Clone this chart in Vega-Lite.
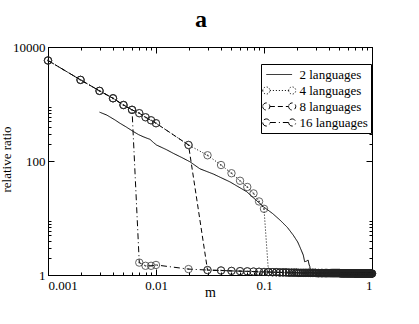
{
"$schema":"https://vega.github.io/schema/vega-lite/v6.json",
"width":324,"height":228,"autosize":"none",
"padding":{"left":48,"top":47,"right":47,"bottom":49},
"background":"white",
"title":{"text":"a","font":"Liberation Serif","fontSize":24,"fontWeight":"bold","anchor":"middle","frame":"group","dx":-9,"dy":10,"offset":0,"baseline":"alphabetic","color":"black"},
"config":{"view":{"stroke":"black","strokeWidth":1},"axis":{"domainColor":"black","tickColor":"black","labelColor":"black","titleColor":"black","labelFont":"Liberation Serif","titleFont":"Liberation Serif","labelFontSize":13,"titleFontSize":13,"titleFontWeight":"normal","grid":false}},
"data":{"values":[
{"s":"2","m":0.003,"r":720},{"s":"2","m":0.0035,"r":640},{"s":"2","m":0.00417,"r":525},{"s":"2","m":0.00464,"r":459},{"s":"2","m":0.0053,"r":395},{"s":"2","m":0.0062,"r":327},{"s":"2","m":0.0069,"r":290},{"s":"2","m":0.0076,"r":267},{"s":"2","m":0.0082,"r":252},{"s":"2","m":0.0088,"r":240},{"s":"2","m":0.0095,"r":210},{"s":"2","m":0.0101,"r":191},{"s":"2","m":0.0125,"r":158},{"s":"2","m":0.0145,"r":136},{"s":"2","m":0.0175,"r":114},{"s":"2","m":0.0206,"r":97},{"s":"2","m":0.0255,"r":73},{"s":"2","m":0.034,"r":59},{"s":"2","m":0.0484,"r":43},{"s":"2","m":0.069,"r":29},{"s":"2","m":0.0986,"r":15.8},{"s":"2","m":0.12,"r":12},{"s":"2","m":0.1407,"r":9.2},{"s":"2","m":0.165,"r":6.8},{"s":"2","m":0.1866,"r":5.0},{"s":"2","m":0.205,"r":3.8},{"s":"2","m":0.215,"r":3.1},{"s":"2","m":0.231,"r":2.24},{"s":"2","m":0.238,"r":1.71},{"s":"2","m":0.247,"r":1.75},{"s":"2","m":0.256,"r":1.83},{"s":"2","m":0.262,"r":1.5},{"s":"2","m":0.266,"r":1.4},{"s":"2","m":0.268,"r":1.12},{"s":"2","m":0.3,"r":1.08},{"s":"2","m":0.5,"r":1.07},{"s":"2","m":1.0,"r":1.05},
{"s":"4","m":0.001,"r":5800},{"s":"4","m":0.002,"r":2650},{"s":"4","m":0.003,"r":1700},{"s":"4","m":0.004,"r":1260},{"s":"4","m":0.005,"r":960},{"s":"4","m":0.006,"r":790},{"s":"4","m":0.007,"r":690},{"s":"4","m":0.008,"r":585},{"s":"4","m":0.009,"r":518},{"s":"4","m":0.01,"r":460},{"s":"4","m":0.02,"r":191},{"s":"4","m":0.03,"r":126},{"s":"4","m":0.04,"r":85},{"s":"4","m":0.05,"r":61},{"s":"4","m":0.06,"r":45},{"s":"4","m":0.07,"r":35},{"s":"4","m":0.08,"r":27},{"s":"4","m":0.09,"r":19.5},{"s":"4","m":0.1,"r":14.5},
{"s":"4","m":0.11,"r":1.13},{"s":"4","m":0.12,"r":1.12},{"s":"4","m":0.13,"r":1.12},{"s":"4","m":0.14,"r":1.11},{"s":"4","m":0.15,"r":1.11},{"s":"4","m":0.16,"r":1.11},{"s":"4","m":0.17,"r":1.1},{"s":"4","m":0.18,"r":1.1},{"s":"4","m":0.19,"r":1.1},{"s":"4","m":0.2,"r":1.1},
{"s":"4","m":0.21,"r":1.09},{"s":"4","m":0.22,"r":1.09},{"s":"4","m":0.23,"r":1.09},{"s":"4","m":0.24,"r":1.09},{"s":"4","m":0.25,"r":1.09},{"s":"4","m":0.26,"r":1.09},{"s":"4","m":0.27,"r":1.09},{"s":"4","m":0.28,"r":1.09},{"s":"4","m":0.29,"r":1.09},{"s":"4","m":0.3,"r":1.09},
{"s":"4","m":0.31,"r":1.08},{"s":"4","m":0.32,"r":1.08},{"s":"4","m":0.33,"r":1.08},{"s":"4","m":0.34,"r":1.08},{"s":"4","m":0.35,"r":1.08},{"s":"4","m":0.36,"r":1.08},{"s":"4","m":0.37,"r":1.08},{"s":"4","m":0.38,"r":1.08},{"s":"4","m":0.39,"r":1.08},{"s":"4","m":0.4,"r":1.08},{"s":"4","m":0.41,"r":1.08},{"s":"4","m":0.42,"r":1.08},{"s":"4","m":0.43,"r":1.08},{"s":"4","m":0.44,"r":1.08},{"s":"4","m":0.45,"r":1.08},{"s":"4","m":0.46,"r":1.08},{"s":"4","m":0.47,"r":1.08},{"s":"4","m":0.48,"r":1.08},{"s":"4","m":0.49,"r":1.08},{"s":"4","m":0.5,"r":1.08},
{"s":"4","m":0.51,"r":1.07},{"s":"4","m":0.52,"r":1.07},{"s":"4","m":0.53,"r":1.07},{"s":"4","m":0.54,"r":1.07},{"s":"4","m":0.55,"r":1.07},{"s":"4","m":0.56,"r":1.07},{"s":"4","m":0.57,"r":1.07},{"s":"4","m":0.58,"r":1.07},{"s":"4","m":0.59,"r":1.07},{"s":"4","m":0.6,"r":1.07},{"s":"4","m":0.61,"r":1.07},{"s":"4","m":0.62,"r":1.07},{"s":"4","m":0.63,"r":1.07},{"s":"4","m":0.64,"r":1.07},{"s":"4","m":0.65,"r":1.07},{"s":"4","m":0.66,"r":1.07},{"s":"4","m":0.67,"r":1.07},{"s":"4","m":0.68,"r":1.07},{"s":"4","m":0.69,"r":1.07},{"s":"4","m":0.7,"r":1.07},
{"s":"4","m":0.71,"r":1.06},{"s":"4","m":0.72,"r":1.06},{"s":"4","m":0.73,"r":1.06},{"s":"4","m":0.74,"r":1.06},{"s":"4","m":0.75,"r":1.06},{"s":"4","m":0.76,"r":1.06},{"s":"4","m":0.77,"r":1.06},{"s":"4","m":0.78,"r":1.06},{"s":"4","m":0.79,"r":1.06},{"s":"4","m":0.8,"r":1.06},{"s":"4","m":0.81,"r":1.06},{"s":"4","m":0.82,"r":1.06},{"s":"4","m":0.83,"r":1.06},{"s":"4","m":0.84,"r":1.06},{"s":"4","m":0.85,"r":1.06},{"s":"4","m":0.86,"r":1.06},{"s":"4","m":0.87,"r":1.06},{"s":"4","m":0.88,"r":1.06},{"s":"4","m":0.89,"r":1.06},{"s":"4","m":0.9,"r":1.06},{"s":"4","m":0.91,"r":1.06},{"s":"4","m":0.92,"r":1.06},{"s":"4","m":0.93,"r":1.06},{"s":"4","m":0.94,"r":1.06},{"s":"4","m":0.95,"r":1.06},{"s":"4","m":0.96,"r":1.06},{"s":"4","m":0.97,"r":1.06},{"s":"4","m":0.98,"r":1.06},{"s":"4","m":0.99,"r":1.06},{"s":"4","m":1.0,"r":1.06},
{"s":"8","m":0.001,"r":5800},{"s":"8","m":0.002,"r":2650},{"s":"8","m":0.003,"r":1700},{"s":"8","m":0.004,"r":1260},{"s":"8","m":0.005,"r":960},{"s":"8","m":0.006,"r":790},{"s":"8","m":0.007,"r":690},{"s":"8","m":0.008,"r":585},{"s":"8","m":0.009,"r":518},{"s":"8","m":0.01,"r":460},{"s":"8","m":0.02,"r":191},
{"s":"8","m":0.03,"r":1.22},{"s":"8","m":0.04,"r":1.2},{"s":"8","m":0.05,"r":1.18},{"s":"8","m":0.06,"r":1.17},{"s":"8","m":0.07,"r":1.16},{"s":"8","m":0.08,"r":1.15},{"s":"8","m":0.09,"r":1.14},{"s":"8","m":0.1,"r":1.13},
{"s":"8","m":0.11,"r":1.13},{"s":"8","m":0.12,"r":1.12},{"s":"8","m":0.13,"r":1.12},{"s":"8","m":0.14,"r":1.11},{"s":"8","m":0.15,"r":1.11},{"s":"8","m":0.16,"r":1.11},{"s":"8","m":0.17,"r":1.1},{"s":"8","m":0.18,"r":1.1},{"s":"8","m":0.19,"r":1.1},{"s":"8","m":0.2,"r":1.1},
{"s":"8","m":0.21,"r":1.09},{"s":"8","m":0.22,"r":1.09},{"s":"8","m":0.23,"r":1.09},{"s":"8","m":0.24,"r":1.09},{"s":"8","m":0.25,"r":1.09},{"s":"8","m":0.26,"r":1.09},{"s":"8","m":0.27,"r":1.09},{"s":"8","m":0.28,"r":1.09},{"s":"8","m":0.29,"r":1.09},{"s":"8","m":0.3,"r":1.09},
{"s":"8","m":0.31,"r":1.08},{"s":"8","m":0.32,"r":1.08},{"s":"8","m":0.33,"r":1.08},{"s":"8","m":0.34,"r":1.08},{"s":"8","m":0.35,"r":1.08},{"s":"8","m":0.36,"r":1.08},{"s":"8","m":0.37,"r":1.08},{"s":"8","m":0.38,"r":1.08},{"s":"8","m":0.39,"r":1.08},{"s":"8","m":0.4,"r":1.08},{"s":"8","m":0.41,"r":1.08},{"s":"8","m":0.42,"r":1.08},{"s":"8","m":0.43,"r":1.08},{"s":"8","m":0.44,"r":1.08},{"s":"8","m":0.45,"r":1.08},{"s":"8","m":0.46,"r":1.08},{"s":"8","m":0.47,"r":1.08},{"s":"8","m":0.48,"r":1.08},{"s":"8","m":0.49,"r":1.08},{"s":"8","m":0.5,"r":1.08},
{"s":"8","m":0.51,"r":1.07},{"s":"8","m":0.52,"r":1.07},{"s":"8","m":0.53,"r":1.07},{"s":"8","m":0.54,"r":1.07},{"s":"8","m":0.55,"r":1.07},{"s":"8","m":0.56,"r":1.07},{"s":"8","m":0.57,"r":1.07},{"s":"8","m":0.58,"r":1.07},{"s":"8","m":0.59,"r":1.07},{"s":"8","m":0.6,"r":1.07},{"s":"8","m":0.61,"r":1.07},{"s":"8","m":0.62,"r":1.07},{"s":"8","m":0.63,"r":1.07},{"s":"8","m":0.64,"r":1.07},{"s":"8","m":0.65,"r":1.07},{"s":"8","m":0.66,"r":1.07},{"s":"8","m":0.67,"r":1.07},{"s":"8","m":0.68,"r":1.07},{"s":"8","m":0.69,"r":1.07},{"s":"8","m":0.7,"r":1.07},
{"s":"8","m":0.71,"r":1.06},{"s":"8","m":0.72,"r":1.06},{"s":"8","m":0.73,"r":1.06},{"s":"8","m":0.74,"r":1.06},{"s":"8","m":0.75,"r":1.06},{"s":"8","m":0.76,"r":1.06},{"s":"8","m":0.77,"r":1.06},{"s":"8","m":0.78,"r":1.06},{"s":"8","m":0.79,"r":1.06},{"s":"8","m":0.8,"r":1.06},{"s":"8","m":0.81,"r":1.06},{"s":"8","m":0.82,"r":1.06},{"s":"8","m":0.83,"r":1.06},{"s":"8","m":0.84,"r":1.06},{"s":"8","m":0.85,"r":1.06},{"s":"8","m":0.86,"r":1.06},{"s":"8","m":0.87,"r":1.06},{"s":"8","m":0.88,"r":1.06},{"s":"8","m":0.89,"r":1.06},{"s":"8","m":0.9,"r":1.06},{"s":"8","m":0.91,"r":1.06},{"s":"8","m":0.92,"r":1.06},{"s":"8","m":0.93,"r":1.06},{"s":"8","m":0.94,"r":1.06},{"s":"8","m":0.95,"r":1.06},{"s":"8","m":0.96,"r":1.06},{"s":"8","m":0.97,"r":1.06},{"s":"8","m":0.98,"r":1.06},{"s":"8","m":0.99,"r":1.06},{"s":"8","m":1.0,"r":1.06},
{"s":"16","m":0.001,"r":5800},{"s":"16","m":0.002,"r":2650},{"s":"16","m":0.003,"r":1700},{"s":"16","m":0.004,"r":1260},{"s":"16","m":0.005,"r":960},{"s":"16","m":0.006,"r":790},{"s":"16","m":0.007,"r":1.65},{"s":"16","m":0.008,"r":1.45},{"s":"16","m":0.009,"r":1.45},{"s":"16","m":0.01,"r":1.5},{"s":"16","m":0.02,"r":1.27},
{"s":"16","m":0.03,"r":1.22},{"s":"16","m":0.04,"r":1.2},{"s":"16","m":0.05,"r":1.18},{"s":"16","m":0.06,"r":1.17},{"s":"16","m":0.07,"r":1.16},{"s":"16","m":0.08,"r":1.15},{"s":"16","m":0.09,"r":1.14},{"s":"16","m":0.1,"r":1.13},
{"s":"16","m":0.11,"r":1.13},{"s":"16","m":0.12,"r":1.12},{"s":"16","m":0.13,"r":1.12},{"s":"16","m":0.14,"r":1.11},{"s":"16","m":0.15,"r":1.11},{"s":"16","m":0.16,"r":1.11},{"s":"16","m":0.17,"r":1.1},{"s":"16","m":0.18,"r":1.1},{"s":"16","m":0.19,"r":1.1},{"s":"16","m":0.2,"r":1.1},
{"s":"16","m":0.21,"r":1.09},{"s":"16","m":0.22,"r":1.09},{"s":"16","m":0.23,"r":1.09},{"s":"16","m":0.24,"r":1.09},{"s":"16","m":0.25,"r":1.09},{"s":"16","m":0.26,"r":1.09},{"s":"16","m":0.27,"r":1.09},{"s":"16","m":0.28,"r":1.09},{"s":"16","m":0.29,"r":1.09},{"s":"16","m":0.3,"r":1.09},
{"s":"16","m":0.31,"r":1.08},{"s":"16","m":0.32,"r":1.08},{"s":"16","m":0.33,"r":1.08},{"s":"16","m":0.34,"r":1.08},{"s":"16","m":0.35,"r":1.08},{"s":"16","m":0.36,"r":1.08},{"s":"16","m":0.37,"r":1.08},{"s":"16","m":0.38,"r":1.08},{"s":"16","m":0.39,"r":1.08},{"s":"16","m":0.4,"r":1.08},{"s":"16","m":0.41,"r":1.08},{"s":"16","m":0.42,"r":1.08},{"s":"16","m":0.43,"r":1.08},{"s":"16","m":0.44,"r":1.08},{"s":"16","m":0.45,"r":1.08},{"s":"16","m":0.46,"r":1.08},{"s":"16","m":0.47,"r":1.08},{"s":"16","m":0.48,"r":1.08},{"s":"16","m":0.49,"r":1.08},{"s":"16","m":0.5,"r":1.08},
{"s":"16","m":0.51,"r":1.07},{"s":"16","m":0.52,"r":1.07},{"s":"16","m":0.53,"r":1.07},{"s":"16","m":0.54,"r":1.07},{"s":"16","m":0.55,"r":1.07},{"s":"16","m":0.56,"r":1.07},{"s":"16","m":0.57,"r":1.07},{"s":"16","m":0.58,"r":1.07},{"s":"16","m":0.59,"r":1.07},{"s":"16","m":0.6,"r":1.07},{"s":"16","m":0.61,"r":1.07},{"s":"16","m":0.62,"r":1.07},{"s":"16","m":0.63,"r":1.07},{"s":"16","m":0.64,"r":1.07},{"s":"16","m":0.65,"r":1.07},{"s":"16","m":0.66,"r":1.07},{"s":"16","m":0.67,"r":1.07},{"s":"16","m":0.68,"r":1.07},{"s":"16","m":0.69,"r":1.07},{"s":"16","m":0.7,"r":1.07},
{"s":"16","m":0.71,"r":1.06},{"s":"16","m":0.72,"r":1.06},{"s":"16","m":0.73,"r":1.06},{"s":"16","m":0.74,"r":1.06},{"s":"16","m":0.75,"r":1.06},{"s":"16","m":0.76,"r":1.06},{"s":"16","m":0.77,"r":1.06},{"s":"16","m":0.78,"r":1.06},{"s":"16","m":0.79,"r":1.06},{"s":"16","m":0.8,"r":1.06},{"s":"16","m":0.81,"r":1.06},{"s":"16","m":0.82,"r":1.06},{"s":"16","m":0.83,"r":1.06},{"s":"16","m":0.84,"r":1.06},{"s":"16","m":0.85,"r":1.06},{"s":"16","m":0.86,"r":1.06},{"s":"16","m":0.87,"r":1.06},{"s":"16","m":0.88,"r":1.06},{"s":"16","m":0.89,"r":1.06},{"s":"16","m":0.9,"r":1.06},{"s":"16","m":0.91,"r":1.06},{"s":"16","m":0.92,"r":1.06},{"s":"16","m":0.93,"r":1.06},{"s":"16","m":0.94,"r":1.06},{"s":"16","m":0.95,"r":1.06},{"s":"16","m":0.96,"r":1.06},{"s":"16","m":0.97,"r":1.06},{"s":"16","m":0.98,"r":1.06},{"s":"16","m":0.99,"r":1.06},{"s":"16","m":1.0,"r":1.06}
]},
"resolve":{"axis":{"x":"independent","y":"independent"}},
"layer":[
{"transform":[{"filter":"datum.s == '2'"}],
 "mark":{"type":"line","color":"black","strokeWidth":1},
 "encoding":{
  "x":{"field":"m","type":"quantitative","scale":{"type":"log","domain":[0.001,1],"nice":false},"axis":{"orient":"bottom","values":[0.001,0.01,0.1,1],"format":"~g","labelFont":"Liberation Serif","labelFontSize":13,"tickSize":-6,"labelPadding":10,"title":"m","titleFont":"Liberation Serif","titleFontSize":14,"titleY":21,"titleBaseline":"alphabetic"}},
  "y":{"field":"r","type":"quantitative","scale":{"type":"log","domain":[1,10000],"nice":false},"axis":{"orient":"left","values":[1,100,10000],"format":"~g","labelFont":"Liberation Serif","labelFontSize":13,"tickSize":-6,"labelPadding":9,"title":"relative ratio","titleFont":"Liberation Serif","titleFontSize":13,"titleX":-38,"titleY":112,"titleAngle":-90,"titleBaseline":"alphabetic","titleAlign":"center"}},
  "strokeDash":{"field":"s","type":"nominal","scale":{"domain":["2","4","8","16"],"range":[[1,0],[1,2],[5,3],[6,3,1,3]]},
   "legend":{"title":null,"orient":"none","legendX":213,"legendY":17,"labelExpr":"datum.label + ' languages'","labelFont":"Liberation Serif","labelFontSize":13,"labelColor":"black","symbolType":"M-2.2,0H2.2","symbolSize":182,"symbolOffset":7.75,"symbolStrokeColor":"black","symbolStrokeWidth":1,"strokeColor":"black","fillColor":"white","padding":3,"rowPadding":1,"labelOffset":12.75,
    "encode":{"symbols":{"update":{"shape":{"signal":"datum.value == '2' ? 'M-1.9,0H1.9' : 'M-1.39,0H1.39M-2.45,0a0.53,0.53 0 1,0 1.06,0a0.53,0.53 0 1,0 -1.06,0M1.39,0a0.53,0.53 0 1,0 1.06,0a0.53,0.53 0 1,0 -1.06,0'"}}}}}}
 }},
{"transform":[{"filter":"datum.s != '2'"}],
 "mark":{"type":"line","color":"black","strokeWidth":1},
 "encoding":{
  "x":{"field":"m","type":"quantitative","scale":{"type":"log","domain":[0.001,1],"nice":false},"axis":{"orient":"top","values":[0.001,0.01,0.1,1],"labels":false,"tickSize":-6,"title":null}},
  "y":{"field":"r","type":"quantitative","scale":{"type":"log","domain":[1,10000],"nice":false},"axis":{"orient":"right","values":[1,100,10000],"labels":false,"tickSize":-6,"title":null}},
  "strokeDash":{"field":"s","type":"nominal","scale":{"domain":["2","4","8","16"],"range":[[1,0],[1,2],[5,3],[6,3,1,3]]}}
 }},
{"transform":[{"filter":"datum.s != '2'"}],
 "mark":{"type":"point","shape":"circle","filled":false,"color":"#222","strokeWidth":1,"size":55},
 "encoding":{
  "x":{"field":"m","type":"quantitative","scale":{"type":"log","domain":[0.001,1],"nice":false},"axis":{"orient":"bottom","values":[0.002,0.003,0.004,0.005,0.006,0.007,0.008,0.009,0.02,0.03,0.04,0.05,0.06,0.07,0.08,0.09,0.2,0.3,0.4,0.5,0.6,0.7,0.8,0.9],"labels":false,"tickSize":-3,"title":null}},
  "y":{"field":"r","type":"quantitative","scale":{"type":"log","domain":[1,10000],"nice":false},"axis":{"orient":"left","values":[2,3,4,5,6,7,8,9,200,300,400,500,600,700,800,900],"labels":false,"tickSize":-3,"title":null}}
 }},
{"transform":[{"filter":"datum.s == '4' || datum.s == '16'"}],
 "mark":{"type":"point","shape":"circle","filled":true,"color":"#222","size":3},
 "encoding":{
  "x":{"field":"m","type":"quantitative","scale":{"type":"log","domain":[0.001,1],"nice":false},"axis":{"orient":"top","values":[0.002,0.003,0.004,0.005,0.006,0.007,0.008,0.009,0.02,0.03,0.04,0.05,0.06,0.07,0.08,0.09,0.2,0.3,0.4,0.5,0.6,0.7,0.8,0.9],"labels":false,"tickSize":-3,"title":null}},
  "y":{"field":"r","type":"quantitative","scale":{"type":"log","domain":[1,10000],"nice":false},"axis":{"orient":"right","values":[2,3,4,5,6,7,8,9,200,300,400,500,600,700,800,900],"labels":false,"tickSize":-3,"title":null}}
 }}
]
}
